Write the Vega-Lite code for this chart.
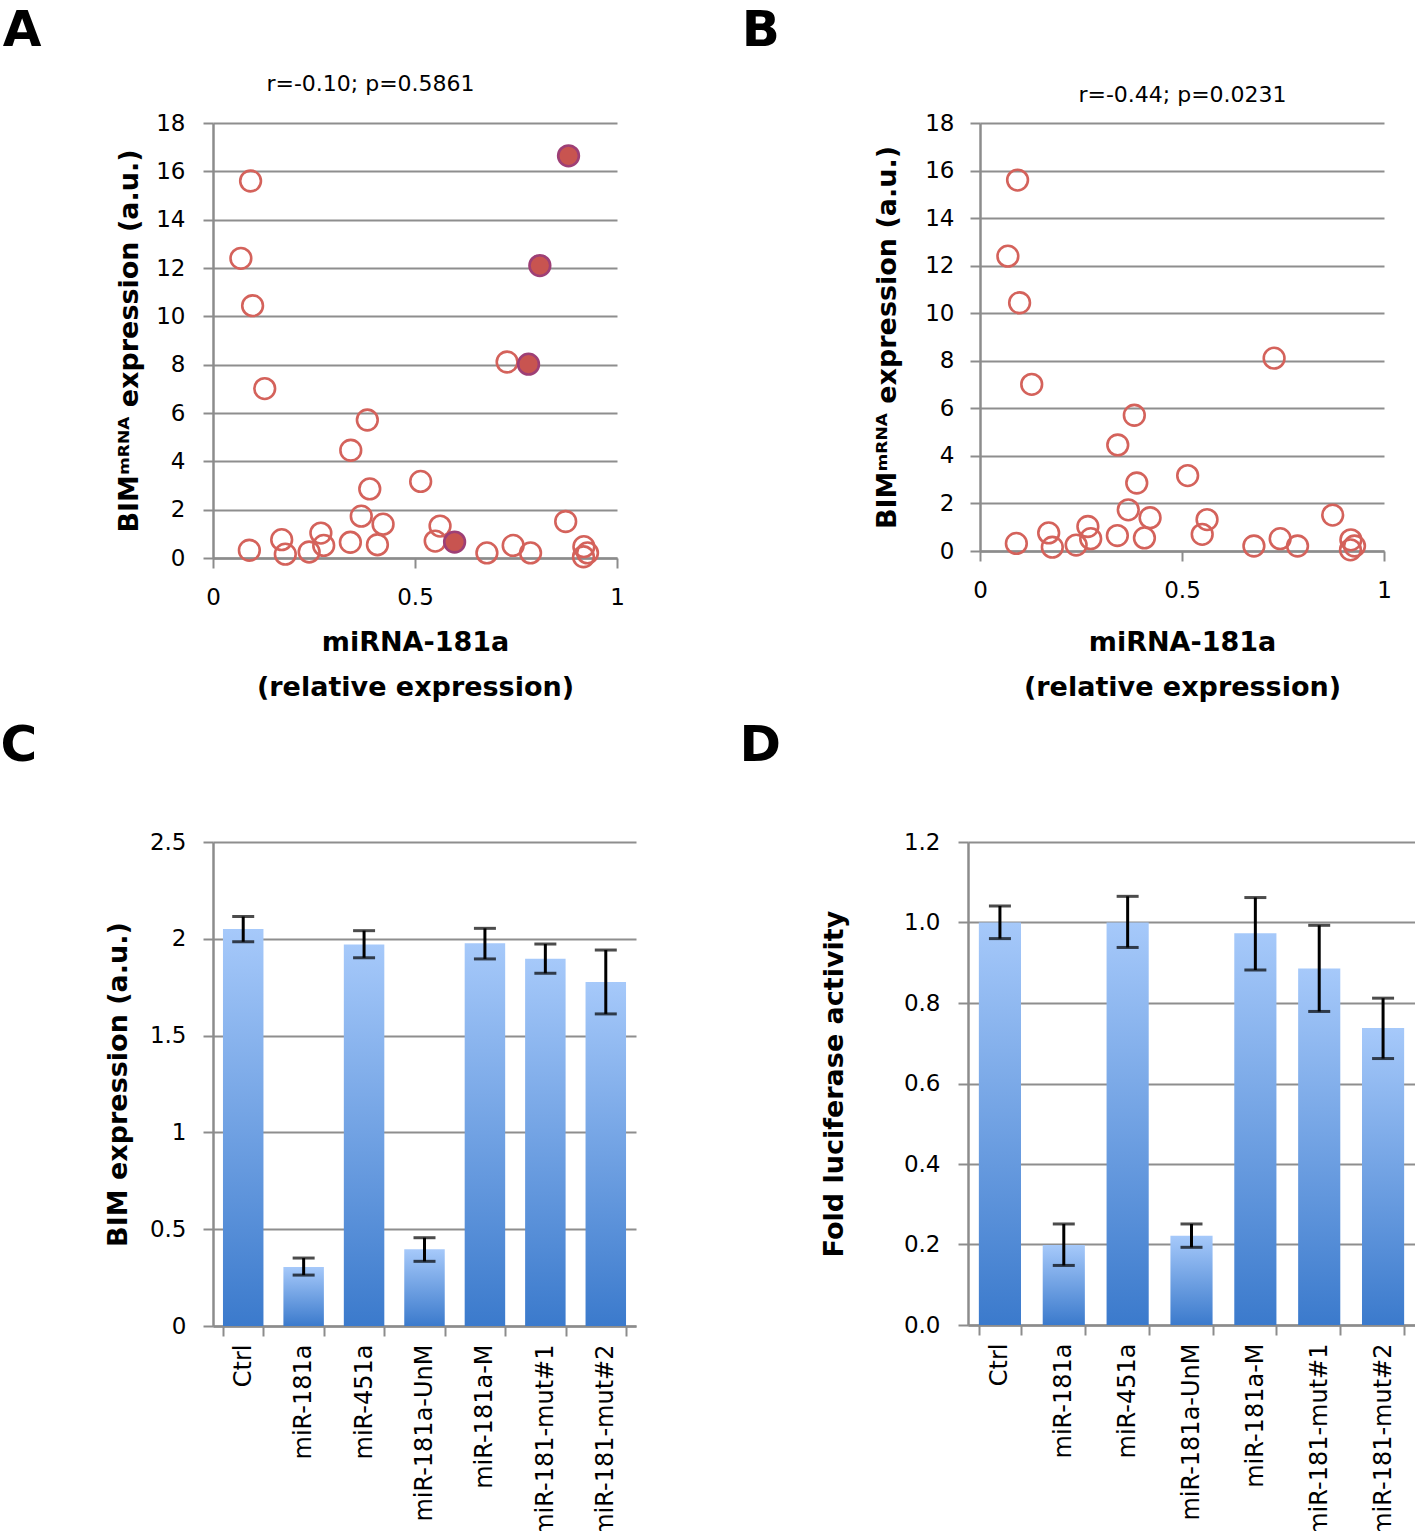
{
  "$schema": "https://vega.github.io/schema/vega-lite/v6.json",
  "padding": {"top": 6, "left": 0, "right": 0, "bottom": 0},
  "background": "white",
  "datasets": {
    "scatter": [
      {"x": 0.093, "y": 15.6, "g": "open"},
      {"x": 0.069, "y": 12.4, "g": "open"},
      {"x": 0.098, "y": 10.44, "g": "open"},
      {"x": 0.128, "y": 7.01, "g": "open"},
      {"x": 0.382, "y": 5.71, "g": "open"},
      {"x": 0.341, "y": 4.46, "g": "open"},
      {"x": 0.388, "y": 2.86, "g": "open"},
      {"x": 0.514, "y": 3.17, "g": "open"},
      {"x": 0.367, "y": 1.73, "g": "open"},
      {"x": 0.421, "y": 1.4, "g": "open"},
      {"x": 0.267, "y": 1.03, "g": "open"},
      {"x": 0.274, "y": 0.52, "g": "open"},
      {"x": 0.34, "y": 0.65, "g": "open"},
      {"x": 0.407, "y": 0.55, "g": "open"},
      {"x": 0.17, "y": 0.76, "g": "open"},
      {"x": 0.179, "y": 0.16, "g": "open"},
      {"x": 0.238, "y": 0.25, "g": "open"},
      {"x": 0.09, "y": 0.32, "g": "open"},
      {"x": 0.562, "y": 1.32, "g": "open"},
      {"x": 0.55, "y": 0.7, "g": "open"},
      {"x": 0.678, "y": 0.21, "g": "open"},
      {"x": 0.743, "y": 0.52, "g": "open"},
      {"x": 0.786, "y": 0.21, "g": "open"},
      {"x": 0.873, "y": 1.51, "g": "open"},
      {"x": 0.918, "y": 0.47, "g": "open"},
      {"x": 0.927, "y": 0.21, "g": "open"},
      {"x": 0.917, "y": 0.05, "g": "open"},
      {"x": 0.728, "y": 8.11, "g": "open"},
      {"x": 0.598, "y": 0.66, "g": "filled"},
      {"x": 0.781, "y": 8.02, "g": "filled"},
      {"x": 0.809, "y": 12.1, "g": "filled"},
      {"x": 0.88, "y": 16.64, "g": "filled"}
    ],
    "bimC": [
      {"cond": "Ctrl", "value": 2.05, "lo": 1.985, "hi": 2.115},
      {"cond": "miR-181a", "value": 0.305, "lo": 0.263, "hi": 0.351},
      {"cond": "miR-451a", "value": 1.97, "lo": 1.902, "hi": 2.042},
      {"cond": "miR-181a-UnM", "value": 0.396, "lo": 0.334, "hi": 0.456},
      {"cond": "miR-181a-M", "value": 1.977, "lo": 1.896, "hi": 2.054},
      {"cond": "miR-181-mut#1", "value": 1.897, "lo": 1.822, "hi": 1.973},
      {"cond": "miR-181-mut#2", "value": 1.777, "lo": 1.612, "hi": 1.942}
    ],
    "lucD": [
      {"cond": "Ctrl", "value": 1.0, "lo": 0.96, "hi": 1.041},
      {"cond": "miR-181a", "value": 0.199, "lo": 0.148, "hi": 0.251},
      {"cond": "miR-451a", "value": 1.0, "lo": 0.938, "hi": 1.065},
      {"cond": "miR-181a-UnM", "value": 0.222, "lo": 0.193, "hi": 0.251},
      {"cond": "miR-181a-M", "value": 0.973, "lo": 0.882, "hi": 1.062},
      {"cond": "miR-181-mut#1", "value": 0.886, "lo": 0.779, "hi": 0.993},
      {"cond": "miR-181-mut#2", "value": 0.738, "lo": 0.662, "hi": 0.812}
    ]
  },
  "config": {
    "font": "DejaVu Sans",
    "view": {"stroke": null},
    "axis": {
      "domainColor": "#8c8c8c", "domainWidth": 2.5,
      "tickColor": "#8c8c8c", "tickWidth": 2, "tickSize": 10,
      "gridColor": "#8e8e8e", "gridWidth": 1.8,
      "labelColor": "#000000", "titleColor": "#000000",
      "labelFont": "DejaVu Sans", "titleFont": "DejaVu Sans",
      "labelFontSize": 23, "titleFontSize": 27, "titleFontWeight": "bold",
      "labelOverlap": false, "labelLimit": 0
    },
    "title": {"font": "DejaVu Sans", "color": "#000000"}
  },
  "columns": 1,
  "align": "none",
  "spacing": {"row": 21, "column": 0},
  "concat": [
    {
      "hconcat": [
        {
          "title": {"text": "A", "anchor": "start", "frame": "bounds", "fontSize": 50, "fontWeight": "bold", "dx": -113, "offset": 16},
          "width": 404, "height": 435,
          "data": {"name": "scatter"},
          "resolve": {"axis": {"x": "independent"}},
          "layer": [
            {
              "transform": [{"filter": {"field": "g", "equal": "open"}}],
              "mark": {"type": "point", "shape": "circle", "filled": false, "size": 430, "strokeWidth": 2.6, "color": "#d4625b", "opacity": 1},
              "encoding": {
                "x": {"field": "x", "type": "quantitative", "scale": {"domain": [0, 1], "nice": false},
                      "axis": {"values": [0, 0.5, 1], "format": "~g", "grid": false, "labelFlush": false, "labelPadding": 18,
                               "title": ["miRNA-181a", "(relative expression)"], "titlePadding": 20, "titleLineHeight": 45}},
                "y": {"field": "y", "type": "quantitative", "scale": {"domain": [0, 18], "nice": false},
                      "axis": {"values": [0, 2, 4, 6, 8, 10, 12, 14, 16, 18], "labelPadding": 18, "titlePadding": 12},
                      "title": "BIMᵐᴿᴺᴬ expression (a.u.)"}
              }
            },
            {
              "transform": [{"filter": {"field": "g", "equal": "filled"}}],
              "mark": {"type": "point", "shape": "circle", "filled": true, "size": 430, "strokeWidth": 2.6, "fill": "#c85450", "stroke": "#9e3f76", "opacity": 1},
              "encoding": {
                "x": {"field": "x", "type": "quantitative", "scale": {"domain": [0, 1], "nice": false},
                      "axis": {"orient": "top", "labels": false, "ticks": false, "domain": false, "grid": false,
                               "title": "r=-0.10; p=0.5861", "titleFontWeight": "normal", "titleFontSize": 22, "titlePadding": 28, "titleX": 157}},
                "y": {"field": "y", "type": "quantitative", "title": "BIMᵐᴿᴺᴬ expression (a.u.)"}
              }
            }
          ]
        },
        {
          "title": {"text": "B", "anchor": "start", "frame": "bounds", "fontSize": 50, "fontWeight": "bold", "dx": -132, "offset": 27},
          "width": 404, "height": 428,
          "data": {"name": "scatter"},
          "resolve": {"axis": {"x": "independent"}},
          "layer": [
            {
              "transform": [{"filter": {"field": "g", "equal": "open"}}, {"filter": {"field": "x", "lt": 0.5}}],
              "mark": {"type": "point", "shape": "circle", "filled": false, "size": 430, "strokeWidth": 2.6, "color": "#d4625b", "opacity": 1},
              "encoding": {
                "x": {"field": "x", "type": "quantitative", "scale": {"domain": [0, 1], "nice": false},
                      "axis": {"values": [0, 0.5, 1], "format": "~g", "grid": false, "labelFlush": false, "labelPadding": 18,
                               "title": ["miRNA-181a", "(relative expression)"], "titlePadding": 27, "titleLineHeight": 45}},
                "y": {"field": "y", "type": "quantitative", "scale": {"domain": [0, 18], "nice": false},
                      "axis": {"values": [0, 2, 4, 6, 8, 10, 12, 14, 16, 18], "labelPadding": 16, "titlePadding": 23},
                      "title": "BIMᵐᴿᴺᴬ expression (a.u.)"}
              }
            },
            {
              "transform": [{"filter": {"field": "g", "equal": "open"}}, {"filter": {"field": "x", "gte": 0.5}}],
              "mark": {"type": "point", "shape": "circle", "filled": false, "size": 430, "strokeWidth": 2.6, "color": "#d4625b", "opacity": 1},
              "encoding": {
                "x": {"field": "x", "type": "quantitative", "scale": {"domain": [0, 1], "nice": false},
                      "axis": {"orient": "top", "labels": false, "ticks": false, "domain": false, "grid": false,
                               "title": "r=-0.44; p=0.0231", "titleFontWeight": "normal", "titleFontSize": 22, "titlePadding": 17}},
                "y": {"field": "y", "type": "quantitative", "title": "BIMᵐᴿᴺᴬ expression (a.u.)"}
              }
            }
          ]
        }
      ],
      "spacing": 116
    },
    {
      "hconcat": [
        {
          "title": {"text": "C", "anchor": "start", "frame": "bounds", "fontSize": 50, "fontWeight": "bold", "dx": -104, "offset": 60},
          "width": 423, "height": 484,
          "data": {"name": "bimC"},
          "encoding": {
            "x": {"field": "cond", "type": "nominal", "sort": null, "scale": {"paddingInner": 0.33, "paddingOuter": 0.165},
                  "axis": {"labelAngle": -90, "title": null, "labelFontSize": 24, "labelPadding": 8, "tickBand": "extent", "grid": false}}
          },
          "layer": [
            {"mark": {"type": "bar", "color": {"gradient": "linear", "x1": 0, "y1": 0, "x2": 0, "y2": 1,
                      "stops": [{"offset": 0, "color": "#a6c9fa"}, {"offset": 1, "color": "#3b7acc"}]}},
             "encoding": {"y": {"field": "value", "type": "quantitative", "title": "BIM expression (a.u.)",
                                "scale": {"domain": [0, 2.5], "nice": false},
                                "axis": {"values": [0, 0.5, 1, 1.5, 2, 2.5], "format": "~g", "labelPadding": 17, "titlePadding": 17}}}},
            {"mark": {"type": "rule", "color": "#000000", "strokeWidth": 3},
             "encoding": {"y": {"field": "lo", "type": "quantitative", "title": "BIM expression (a.u.)"}, "y2": {"field": "hi"}}},
            {"mark": {"type": "tick", "color": "#000000", "thickness": 3, "size": 22},
             "encoding": {"y": {"field": "lo", "type": "quantitative", "title": "BIM expression (a.u.)"}}},
            {"mark": {"type": "tick", "color": "#000000", "thickness": 3, "size": 22},
             "encoding": {"y": {"field": "hi", "type": "quantitative", "title": "BIM expression (a.u.)"}}}
          ]
        },
        {
          "title": {"text": "D", "anchor": "start", "frame": "bounds", "fontSize": 50, "fontWeight": "bold", "dx": -81, "offset": 60},
          "width": 447, "height": 483,
          "data": {"name": "lucD"},
          "encoding": {
            "x": {"field": "cond", "type": "nominal", "sort": null, "scale": {"paddingInner": 0.34, "paddingOuter": 0.17},
                  "axis": {"labelAngle": -90, "title": null, "labelFontSize": 24, "labelPadding": 8, "tickBand": "extent", "grid": false}}
          },
          "layer": [
            {"mark": {"type": "bar", "color": {"gradient": "linear", "x1": 0, "y1": 0, "x2": 0, "y2": 1,
                      "stops": [{"offset": 0, "color": "#a6c9fa"}, {"offset": 1, "color": "#3b7acc"}]}},
             "encoding": {"y": {"field": "value", "type": "quantitative", "title": "Fold luciferase activity",
                                "scale": {"domain": [0, 1.2], "nice": false},
                                "axis": {"values": [0, 0.2, 0.4, 0.6, 0.8, 1.0, 1.2], "format": ".1f", "labelPadding": 18, "titlePadding": 55}}}},
            {"mark": {"type": "rule", "color": "#000000", "strokeWidth": 3},
             "encoding": {"y": {"field": "lo", "type": "quantitative", "title": "Fold luciferase activity"}, "y2": {"field": "hi"}}},
            {"mark": {"type": "tick", "color": "#000000", "thickness": 3, "size": 22},
             "encoding": {"y": {"field": "lo", "type": "quantitative", "title": "Fold luciferase activity"}}},
            {"mark": {"type": "tick", "color": "#000000", "thickness": 3, "size": 22},
             "encoding": {"y": {"field": "hi", "type": "quantitative", "title": "Fold luciferase activity"}}}
          ]
        }
      ],
      "spacing": 103
    }
  ]
}
